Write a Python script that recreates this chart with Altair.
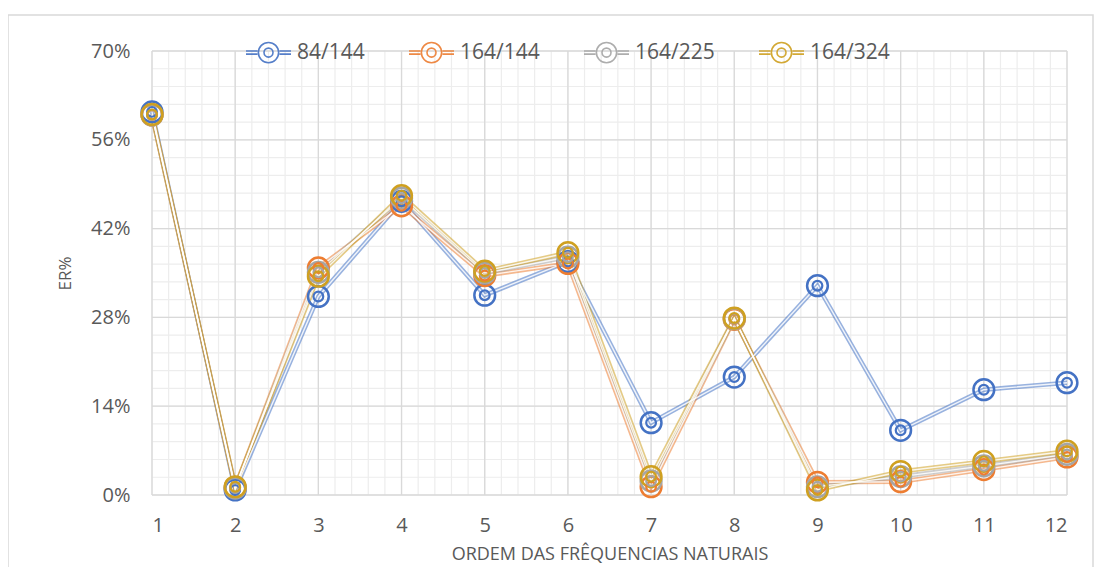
import altair as alt
import pandas as pd

# ---------------- data ----------------
orders = list(range(1, 13))
series_names = ["84/144", "164/144", "164/225", "164/324"]
er_84_144 = [60.4, 0.8, 31.3, 46.3, 31.5, 36.8, 11.4, 18.6, 33.0, 10.2, 16.6, 17.7]
er_164_144 = [59.9, 1.2, 35.8, 45.6, 34.6, 36.5, 1.3, 27.7, 2.0, 2.1, 4.0, 6.0]
er_164_225 = [59.9, 1.1, 35.1, 46.8, 35.0, 37.5, 2.2, 27.8, 1.3, 2.9, 4.6, 6.4]
er_164_324 = [60.0, 1.3, 34.5, 47.2, 35.3, 38.2, 2.9, 27.9, 0.8, 3.7, 5.3, 6.9]
colors = ["#4472C4", "#ED7D31", "#A5A5A5", "#CFA020"]
y_ticks = [0.0, 0.14, 0.28, 0.42, 0.56, 0.70]
y_minor = [round(i * 0.028, 4) for i in range(26)]
x_minor = [round(1 + i * 0.2, 2) for i in range(56)]

rows = []
for name, vals in zip(series_names, [er_84_144, er_164_144, er_164_225, er_164_324]):
    for o, v in zip(orders, vals):
        rows.append({"ordem": o, "er": v / 100.0, "serie": name})
df = pd.DataFrame(rows)

W, H = 915, 444
FONT = "Open Sans"
GRAY_TXT = "#595959"

xs = alt.Scale(domain=[1, 12], nice=False, zero=False)
ys = alt.Scale(domain=[0, 0.70], nice=False, zero=False)
cs = alt.Scale(domain=series_names, range=colors)

legend_path = (
    "M-1,-0.07L-0.49,-0.07M-1,0.07L-0.49,0.07"
    "M0.49,-0.07L1,-0.07M0.49,0.07L1,0.07"
    "M-0.45,0A0.45,0.45,0,1,0,0.45,0A0.45,0.45,0,1,0,-0.45,0"
    "M-0.2,0A0.2,0.2,0,1,0,0.2,0A0.2,0.2,0,1,0,-0.2,0"
)

x_axis = alt.Axis(values=orders, format="d", grid=False, ticks=False, domain=False,
                  labelFont=FONT, labelFontSize=20, labelColor=GRAY_TXT, labelPadding=20,
                  title="ORDEM DAS FRÊQUENCIAS NATURAIS", titleFont=FONT, titleFontSize=18,
                  titleFontWeight="normal", titleColor=GRAY_TXT, titlePadding=10)
y_axis = alt.Axis(values=y_ticks, format=".0%", grid=False, ticks=False, domain=False,
                  labelFont=FONT, labelFontSize=20, labelColor=GRAY_TXT, labelPadding=22,
                  title="ER%", titleFont=FONT, titleFontSize=17, titleFontWeight="normal",
                  titleColor=GRAY_TXT, titlePadding=16)
legend = alt.Legend(
    orient="none", legendX=93, legendY=-22, direction="horizontal", title=None,
    symbolType=legend_path, symbolSize=45 * 45, symbolStrokeWidth=1.6,
    symbolFillColor="transparent", labelFont=FONT, labelFontSize=21,
    labelColor=GRAY_TXT, columnPadding=40, labelOffset=5, symbolOpacity=0.9,
)


def X(field):
    return alt.X(field, type="quantitative", scale=xs, axis=x_axis)


def Y(field):
    return alt.Y(field, type="quantitative", scale=ys, axis=y_axis)


def C():
    return alt.Color("serie:N", scale=cs, sort=series_names, legend=legend)


# grid lines
vminor = alt.Chart(pd.DataFrame({"ordem": x_minor})).mark_rule(color="#EDEDED", strokeWidth=1.2).encode(x=X("ordem"))
hminor = alt.Chart(pd.DataFrame({"er": y_minor})).mark_rule(color="#EDEDED", strokeWidth=1.2).encode(y=Y("er"))
vmajor = alt.Chart(pd.DataFrame({"ordem": orders})).mark_rule(color="#D9D9D9", strokeWidth=1.3).encode(x=X("ordem"))
hmajor = alt.Chart(pd.DataFrame({"er": y_ticks})).mark_rule(color="#D9D9D9", strokeWidth=1.3).encode(y=Y("er"))

base = alt.Chart(df)
lines = base.mark_line(strokeWidth=4.5, opacity=0.55).encode(
    x=X("ordem"), y=Y("er"), color=C(), detail="serie:N")
lines_in = base.mark_line(strokeWidth=1.4, color="white", opacity=0.85).encode(
    x=X("ordem"), y=Y("er"), detail="serie:N")
outer = base.mark_point(filled=False, size=430, strokeWidth=2.5, opacity=1).encode(
    x=X("ordem"), y=Y("er"), color=C())
inner = base.mark_point(filled=False, size=95, strokeWidth=2.2, opacity=1).encode(
    x=X("ordem"), y=Y("er"), color=C())

# outer chart frame
frame = alt.Chart(pd.DataFrame({"k": [0]})).mark_rect(
    fillOpacity=0, stroke="#D9D9D9", strokeWidth=1.5
).encode(
    x=alt.value(-144), x2=alt.value(W + 26), y=alt.value(-36), y2=alt.value(H + 200)
)

chart = alt.layer(
    vminor, hminor, vmajor, hmajor, lines, lines_in, outer, inner, frame
).properties(
    width=W, height=H,
    title=alt.TitleParams("Analíticas.", font="Liberation Sans", fontSize=22,
                          fontWeight="normal", color="#000000", anchor="middle",
                          dx=-65, offset=32),
    autosize=alt.AutoSizeParams(type="none"),
    padding={"left": 144, "top": 43, "right": 27, "bottom": 72},
).configure_view(stroke=None)

chart.save("out.html", embed_options={"renderer": "svg", "actions": False})
